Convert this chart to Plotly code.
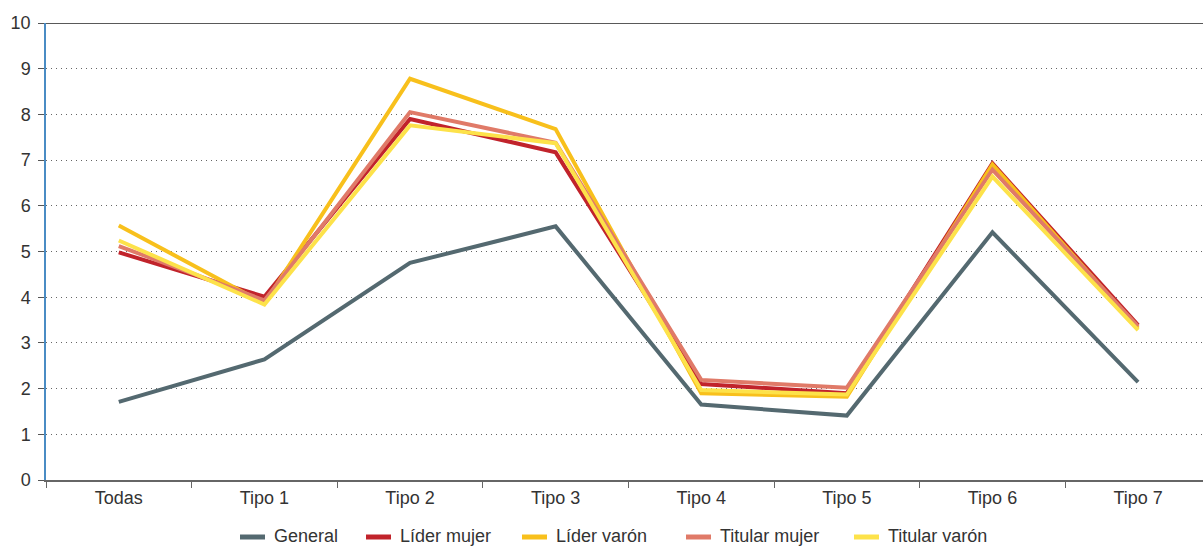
import plotly.graph_objects as go

# Categorías del eje X
categorias = ["Todas", "Tipo 1", "Tipo 2", "Tipo 3", "Tipo 4", "Tipo 5", "Tipo 6", "Tipo 7"]

# Valores por serie
general = [1.71, 2.64, 4.75, 5.55, 1.65, 1.41, 5.42, 2.14]
lider_mujer = [4.98, 4.01, 7.90, 7.17, 2.10, 1.90, 6.93, 3.39]
lider_varon = [5.57, 3.86, 8.78, 7.68, 1.90, 1.82, 6.90, 3.32]
titular_mujer = [5.12, 3.93, 8.05, 7.38, 2.19, 2.02, 6.79, 3.36]
titular_varon = [5.24, 3.84, 7.76, 7.37, 1.97, 1.87, 6.64, 3.28]

series = [
    ("General", general, "#546970"),
    ("Líder mujer", lider_mujer, "#c1232b"),
    ("Líder varón", lider_varon, "#f8c01c"),
    ("Titular mujer", titular_mujer, "#e07a68"),
    ("Titular varón", titular_varon, "#fde24a"),
]

W, H = 1203, 548
M_L, M_R, M_T, M_B = 46, 0, 23, 68
FONT = "Liberation Sans, Arial, sans-serif"
TXT = "#333333"

fig = go.Figure()
for nombre, valores, color in series:
    fig.add_trace(go.Scatter(
        x=categorias, y=valores, name=nombre, mode="lines",
        line=dict(color=color, width=4),
        showlegend=False,
    ))

fig.update_layout(
    width=W, height=H,
    margin=dict(l=M_L, r=M_R, t=M_T, b=M_B, autoexpand=False),
    paper_bgcolor="white", plot_bgcolor="white",
    font=dict(family=FONT, size=18, color=TXT),
    xaxis=dict(
        type="category", range=[-0.5, 7.446],
        showline=True, linecolor="#666666", linewidth=2,
        ticks="outside", tickson="boundaries", ticklen=6, tickcolor="#666666", tickwidth=1,
        showgrid=False, zeroline=False,
        tickfont=dict(size=18, color=TXT),
    ),
    yaxis=dict(
        range=[0, 10], dtick=1, tick0=0,
        showline=True, linecolor="#4a8cc4", linewidth=1.5,
        ticks="outside", ticklen=6, tickcolor="#555555", tickwidth=1,
        ticklabelstandoff=4,
        showgrid=True, gridcolor="#666666", gridwidth=1, griddash="1px,4px",
        zeroline=False,
        tickfont=dict(size=18, color=TXT),
    ),
)

# Línea superior del marco en y = 10
fig.add_shape(type="line", xref="paper", yref="y", x0=0, x1=1, y0=10, y1=10,
              line=dict(color="#222222", width=1.5))

# Leyenda horizontal bajo el eje: muestra de línea + nombre de cada serie
plot_w = W - M_L - M_R
plot_h = H - M_T - M_B


def px_x(x):
    return (x - M_L) / plot_w


def px_y(y):
    return (H - M_B - y) / plot_h


leyenda_x = [240, 366, 522, 686, 854]
y_sym = 537
for (nombre, _, color), x0 in zip(series, leyenda_x):
    fig.add_shape(type="line", xref="paper", yref="paper",
                  x0=px_x(x0), x1=px_x(x0 + 25), y0=px_y(y_sym), y1=px_y(y_sym),
                  line=dict(color=color, width=5))
    fig.add_annotation(text=nombre, xref="paper", yref="paper",
                       x=px_x(x0 + 32), y=px_y(y_sym - 1),
                       xanchor="left", yanchor="middle", showarrow=False,
                       font=dict(size=18, color=TXT, family=FONT))

fig.write_html("out.html")
